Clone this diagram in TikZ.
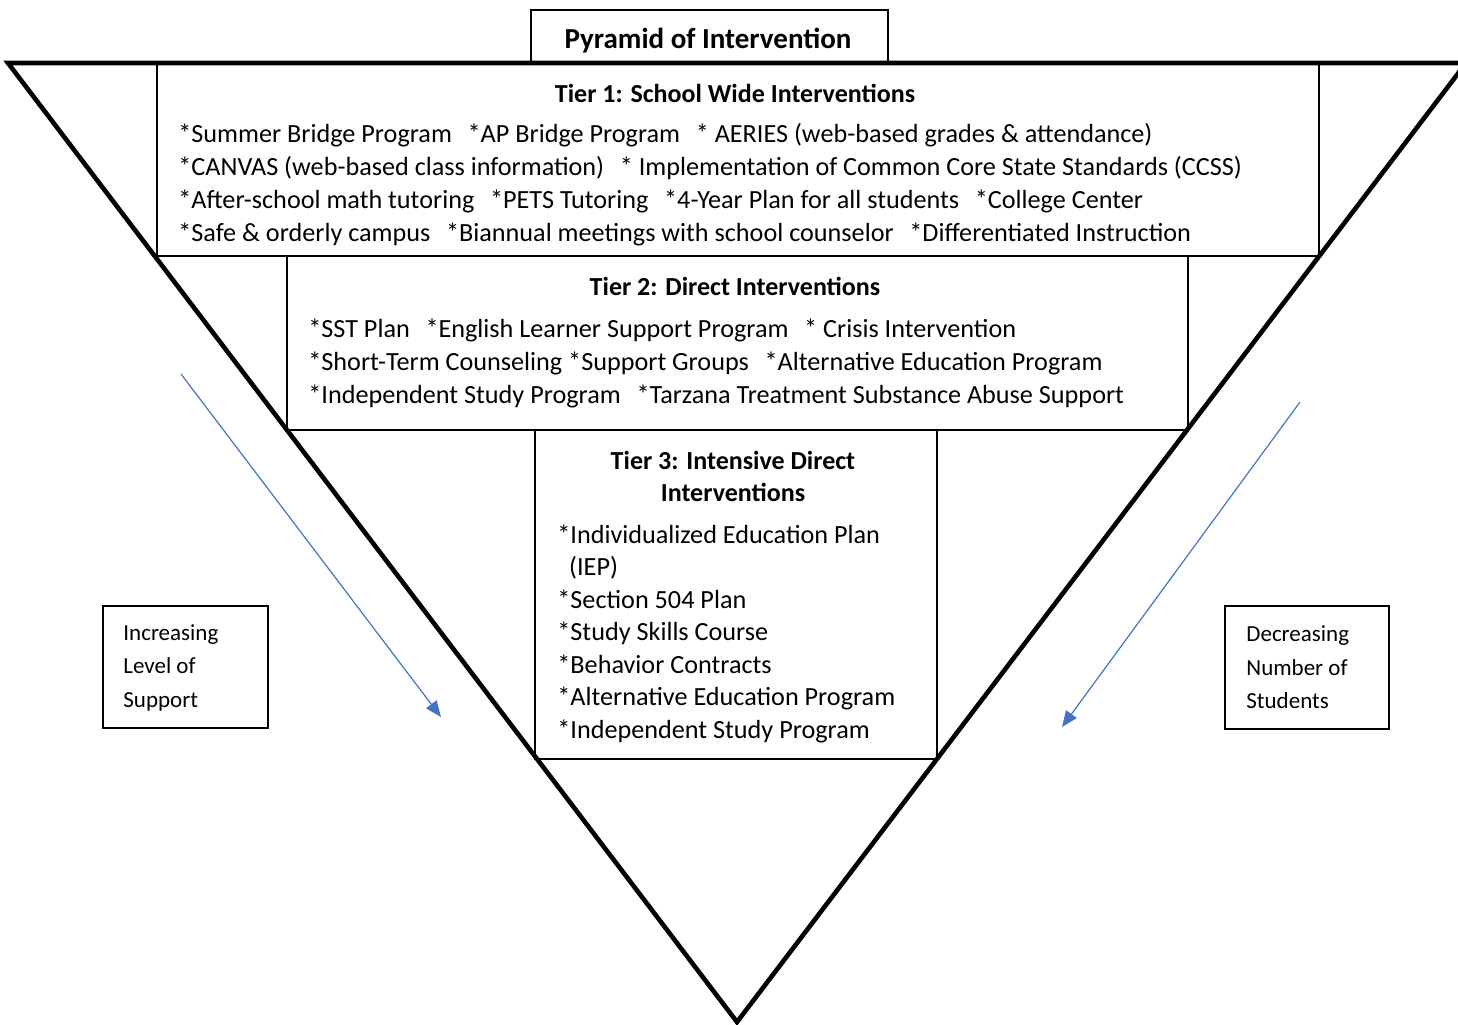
\documentclass[tikz,border=0pt]{standalone}
\usepackage{fontspec}
\setmainfont{Carlito}
\usetikzlibrary{arrows.meta}
\definecolor{arrowblue}{HTML}{4472C4}
\newcommand{\gap}{\hspace{0.6em}}
\tikzset{
  tierline/.style={line width=1pt},
  thinbox/.style={line width=0.7pt},
  bodytext/.style={inner sep=0pt, align=left, font=\fontsize{13.1}{16.5}\selectfont},
  headtext/.style={inner sep=0pt, align=center, font=\fontsize{13}{16}\selectfont\bfseries},
  sidetext/.style={inner sep=0pt, align=left, font=\fontsize{11.5}{16.75}\selectfont},
  bluearrow/.style={arrowblue, line width=0.6pt, -{Triangle[length=8pt, width=6.5pt]}}
}

\begin{document}
\begin{tikzpicture}[x=0.5pt,y=-0.5pt]
		\useasboundingbox (0,0) rectangle (1458,1024);

		% title
		\draw[thinbox] (531,10) rectangle (888,63);
		\node[inner sep=0pt, font=\fontsize{14.5}{17}\selectfont\bfseries] (title) at (708,41) {Pyramid of Intervention};

		% tier boxes
		\draw[tierline] (157,63) rectangle (1319,256);
		\draw[tierline] (287,256) rectangle (1188,430);
		\draw[tierline] (535,430) rectangle (937,759);

		% inverted pyramid
		\coordinate (tl) at (8,63);
		\coordinate (tr) at (1466,63);
		\coordinate (apex) at (737,1022);
		\draw[line width=2.3pt] (tl) -- (tr) -- (apex) -- cycle;

		% tier 1
		\node[headtext] (t1head) at (735,93) {Tier 1: School Wide Interventions};
		\node[bodytext, anchor=west] (t1list) at (178,184.5) {*Summer Bridge Program\gap *AP Bridge Program\gap * AERIES (web-based grades \& attendance)\\
			*CANVAS (web-based class information)\gap * Implementation of Common Core State Standards (CCSS)\\
			*After-school math tutoring\gap *PETS Tutoring\gap *4-Year Plan for all students\gap *College Center\\
			*Safe \& orderly campus\gap *Biannual meetings with school counselor\gap *Differentiated Instruction};

		% tier 2
		\node[headtext] (t2head) at (735,286) {Tier 2: Direct Interventions};
		\node[bodytext, anchor=west] (t2list) at (308,363) {*SST Plan\gap *English Learner Support Program\gap * Crisis Intervention\\
			*Short-Term Counseling *Support Groups\gap *Alternative Education Program\\
			*Independent Study Program\gap *Tarzana Treatment Substance Abuse Support};

		% tier 3
		\node[headtext] (t3head) at (733,476) {Tier 3: Intensive Direct\\Interventions};
		\node[bodytext, anchor=west, font=\fontsize{13.1}{16.25}\selectfont] (t3list) at (557,633.5) {*Individualized Education Plan\\
			\hspace{0.45em}(IEP)\\
			*Section 504 Plan\\
			*Study Skills Course\\
			*Behavior Contracts\\
			*Alternative Education Program\\
			*Independent Study Program};

		% side labels
		\draw[thinbox] (103,606) rectangle (268,728);
		\node[sidetext, anchor=west] (support) at (123,667.5) {Increasing\\Level of\\Support};
		\draw[thinbox] (1225,606) rectangle (1389,729);
		\node[sidetext, anchor=west] (students) at (1246,667.5) {Decreasing\\Number of\\Students};

		\coordinate (la) at (181,374);
		\coordinate (lb) at (441,717);
		\draw[bluearrow] (la) -- (lb);
		\coordinate (ra) at (1300,402);
		\coordinate (rb) at (1062,727);
		\draw[bluearrow] (ra) -- (rb);
\end{tikzpicture}
\end{document}
